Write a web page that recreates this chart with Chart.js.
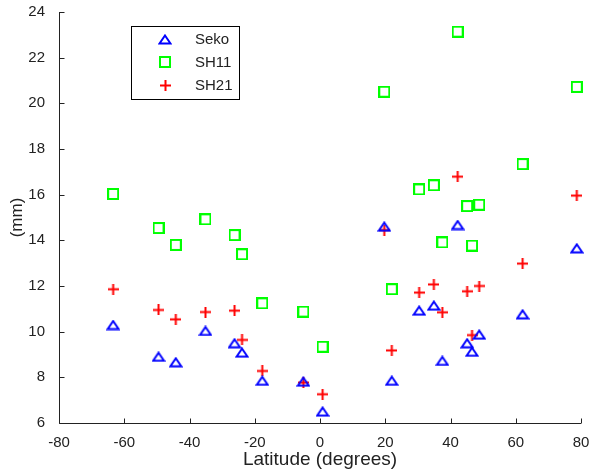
<!DOCTYPE html>
<html>
<head>
<meta charset="utf-8">
<script src="https://cdn.jsdelivr.net/npm/chart.js@4.4.1/dist/chart.umd.min.js"></script>
<style>
  body { margin: 0; background: #fff; }
  canvas { display: block; }
</style>
</head>
<body>
<canvas id="myChart" width="589" height="473"></canvas>
<script>
// station latitudes (degrees), shared by all three series
const latitude = [-63.4, -49.5, -44.2, -35.1, -26.2, -23.9, -17.7, -5.1, 0.8, 19.7,
  22.0, 30.4, 34.9, 37.5, 42.2, 45.1, 46.6, 48.8, 62.1, 78.7];
// values in mm
const seko = [10.29, 8.90, 8.66, 10.03, 9.49, 9.08, 7.85, 7.81, 6.50, 14.60,
  7.85, 10.92, 11.14, 8.72, 14.67, 9.49, 9.12, 9.87, 10.76, 13.65];
const sh11 = [16.03, 14.54, 13.80, 14.92, 14.23, 13.39, 11.24, 10.88, 9.34, 20.51,
  11.86, 16.23, 16.41, 13.91, 23.14, 15.50, 13.77, 15.56, 17.34, 20.72];
const sh21 = [11.86, 10.95, 10.54, 10.86, 10.92, 9.64, 8.28, 7.77, 7.26, 14.45,
  9.18, 11.71, 12.07, 10.85, 16.79, 11.77, 9.85, 12.00, 12.98, 15.96];

const xTicks = [-80, -60, -40, -20, 0, 20, 40, 60, 80];
const yTicks = [6, 8, 10, 12, 14, 16, 18, 20, 22, 24];

const axisColor = '#222';
const fontFamily = "'Liberation Sans', Arial, sans-serif";

function toPoints(values) {
  return values.map((v, i) => ({ x: latitude[i], y: v }));
}

// small canvases used as point styles (flat triangle, open square, plus)
function makeMarker(w, h, color, draw) {
  const c = document.createElement('canvas');
  c.width = w;
  c.height = h;
  const g = c.getContext('2d');
  g.strokeStyle = color;
  g.lineWidth = 2;
  g.lineJoin = 'miter';
  g.beginPath();
  draw(g);
  g.stroke();
  return c;
}
const triangleMark = makeMarker(14, 11, '#0000ff', g => {
  g.moveTo(7, 1.5);
  g.lineTo(12.5, 9.5);
  g.lineTo(1.5, 9.5);
  g.closePath();
});
const squareMark = makeMarker(12, 12, '#00ff00', g => {
  g.rect(1, 1, 10, 10);
});
const crossMark = makeMarker(11, 11, '#ff0000', g => {
  g.moveTo(5.5, 0);
  g.lineTo(5.5, 11);
  g.moveTo(0, 5.5);
  g.lineTo(11, 5.5);
});

// left and bottom axis lines with ticks pointing into the plot
const axesLines = {
  id: 'axesLines',
  afterDraw(chart) {
    const { ctx, chartArea, scales } = chart;
    const left = Math.round(chartArea.left) + 0.5;
    const bottom = Math.round(chartArea.bottom) + 0.5;
    ctx.save();
    ctx.strokeStyle = axisColor;
    ctx.lineWidth = 1;
    ctx.beginPath();
    ctx.moveTo(left, chartArea.top);
    ctx.lineTo(left, bottom);
    ctx.lineTo(chartArea.right, bottom);
    for (const v of xTicks) {
      const px = Math.round(scales.x.getPixelForValue(v)) + 0.5;
      ctx.moveTo(px, bottom);
      ctx.lineTo(px, bottom - 5);
    }
    for (const v of yTicks) {
      const py = Math.round(scales.y.getPixelForValue(v)) + 0.5;
      ctx.moveTo(left, py);
      ctx.lineTo(left + 5, py);
    }
    ctx.stroke();
    ctx.restore();
  }
};

// boxed legend inside the plot, upper left
const boxLegend = {
  id: 'boxLegend',
  afterDraw(chart) {
    const { ctx } = chart;
    const box = { x: 131.5, y: 26.5, w: 108, h: 73 };
    ctx.save();
    ctx.fillStyle = '#fff';
    ctx.fillRect(box.x, box.y, box.w, box.h);
    ctx.strokeStyle = '#000';
    ctx.lineWidth = 1;
    ctx.strokeRect(box.x, box.y, box.w, box.h);
    ctx.font = '15px ' + fontFamily;
    ctx.textBaseline = 'middle';
    chart.data.datasets.forEach((ds, i) => {
      const y = 39 + i * 23;
      const img = ds.pointStyle;
      ctx.drawImage(img, Math.round(165 - img.width / 2), Math.round(y - img.height / 2));
      ctx.fillStyle = axisColor;
      ctx.fillText(ds.label, 195, y + 1);
    });
    ctx.restore();
  }
};

const ctx = document.getElementById('myChart').getContext('2d');
const chart = new Chart(ctx, {
  type: 'scatter',
  data: {
    datasets: [{
      label: 'Seko',
      data: toPoints(seko),
      pointStyle: triangleMark,
      clip: false
    },
    {
      label: 'SH11',
      data: toPoints(sh11),
      pointStyle: squareMark,
      clip: false
    },
    {
      label: 'SH21',
      data: toPoints(sh21),
      pointStyle: crossMark,
      clip: false
    }]
  },
  options: {
    responsive: false,
    animation: false,
    layout: { padding: { top: 12, right: 8, left: 0, bottom: 0 } },
    plugins: {
      legend: { display: false },
      tooltip: { enabled: false }
    },
    scales: {
      x: {
        type: 'linear',
        min: -80,
        max: 80,
        afterBuildTicks: (scale) => { scale.ticks = xTicks.map(v => ({ value: v })); },
        afterFit: (scale) => {
          scale.height = 50;
          scale.paddingLeft = 0;
          scale.paddingRight = 0;
        },
        grid: { display: false },
        border: { display: false },
        ticks: {
          padding: 3,
          maxRotation: 0,
          color: axisColor,
          font: { family: fontFamily, size: 15 }
        },
        title: {
          display: true,
          text: 'Latitude (degrees)',
          color: axisColor,
          padding: { top: 0, bottom: 2 },
          font: { family: fontFamily, size: 19 }
        }
      },
      y: {
        type: 'linear',
        min: 6,
        max: 24,
        afterBuildTicks: (scale) => { scale.ticks = yTicks.map(v => ({ value: v })); },
        afterFit: (scale) => {
          scale.width = 59;
          scale.paddingTop = 0;
          scale.paddingBottom = 0;
        },
        grid: { display: false },
        border: { display: false },
        ticks: {
          padding: 6,
          color: axisColor,
          font: { family: fontFamily, size: 15 }
        },
        title: {
          display: true,
          text: '(mm)',
          color: axisColor,
          padding: { top: 7, bottom: 0 },
          font: { family: fontFamily, size: 17 }
        }
      }
    }
  },
  plugins: [axesLines, boxLegend]
});
</script>
</body>
</html>
